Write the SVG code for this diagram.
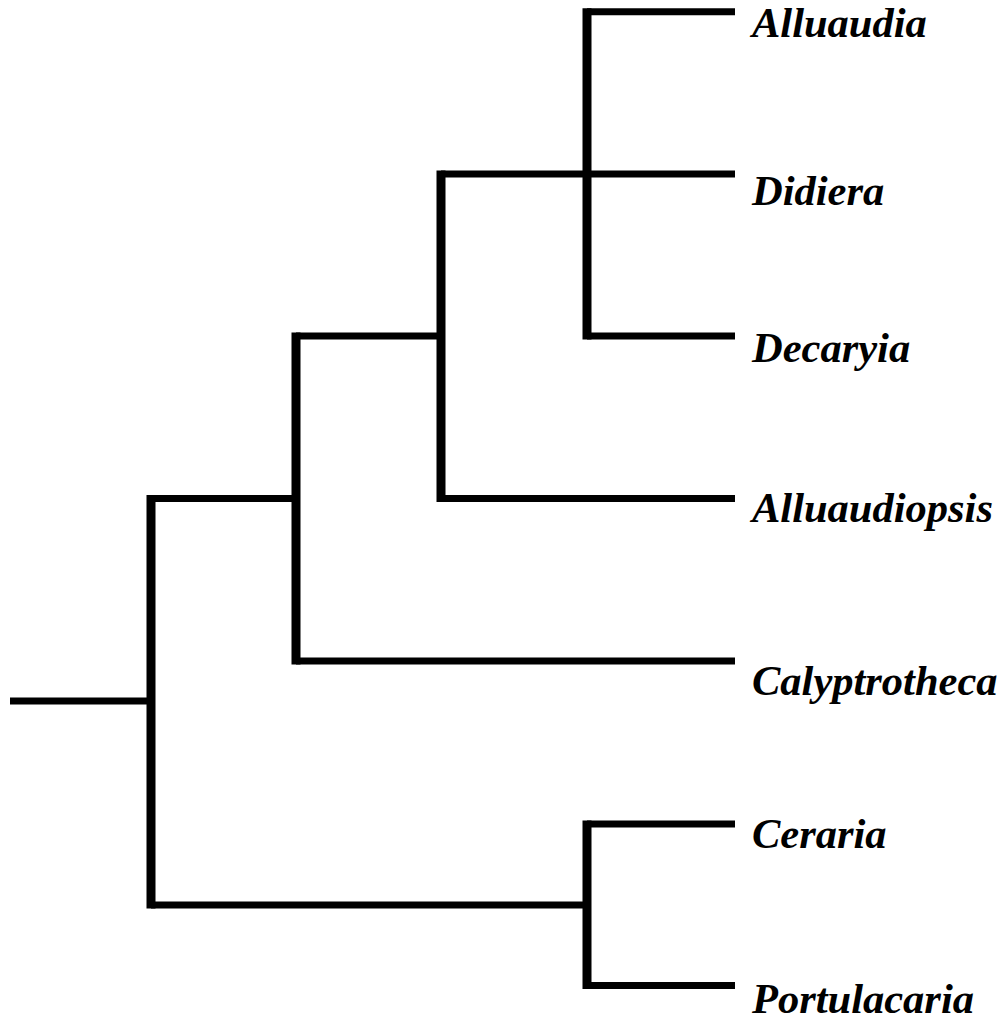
<svg xmlns="http://www.w3.org/2000/svg" width="1004" height="1022" viewBox="0 0 1004 1022">
<style>
.h{stroke:#000;stroke-width:7;fill:none}
.v{stroke:#000;stroke-width:9;fill:none}
.lbl{font-family:"Liberation Serif","Times New Roman",serif;font-weight:bold;font-style:italic;font-size:42.5px;fill:#000}
</style>
<rect width="1004" height="1022" fill="#fff"/>
<g id="connectors">
<line class="h" x1="10" y1="701" x2="151" y2="701"/>
<line class="v" x1="151" y1="495" x2="151" y2="908.5"/>
<line class="h" x1="151" y1="498.5" x2="296" y2="498.5"/>
<line class="h" x1="151" y1="905" x2="587" y2="905"/>
<line class="v" x1="296" y1="332.5" x2="296" y2="664.5"/>
<line class="h" x1="296" y1="336" x2="441" y2="336"/>
<line class="h" x1="296" y1="661" x2="735" y2="661"/>
<line class="v" x1="441" y1="170.5" x2="441" y2="502"/>
<line class="h" x1="441" y1="174" x2="735" y2="174"/>
<line class="h" x1="441" y1="498.5" x2="735" y2="498.5"/>
<line class="v" x1="587" y1="8.3" x2="587" y2="339.5"/>
<line class="h" x1="587" y1="11.8" x2="735" y2="11.8"/>
<line class="h" x1="587" y1="336" x2="735" y2="336"/>
<line class="v" x1="587" y1="820.5" x2="587" y2="989"/>
<line class="h" x1="587" y1="824" x2="735" y2="824"/>
<line class="h" x1="587" y1="985.5" x2="735" y2="985.5"/>
</g>
<g id="alluaudia"><text class="lbl" x="752" y="37">Alluaudia</text></g>
<g id="didiera"><text class="lbl" x="752" y="205">Didiera</text></g>
<g id="decaryia"><text class="lbl" x="752" y="362">Decaryia</text></g>
<g id="alluaudiopsis"><text class="lbl" x="752" y="522">Alluaudiopsis</text></g>
<g id="calyptrotheca"><text class="lbl" x="752" y="695">Calyptrotheca</text></g>
<g id="ceraria"><text class="lbl" x="752" y="848">Ceraria</text></g>
<g id="portulacaria"><text class="lbl" x="752" y="1013">Portulacaria</text></g>
</svg>
